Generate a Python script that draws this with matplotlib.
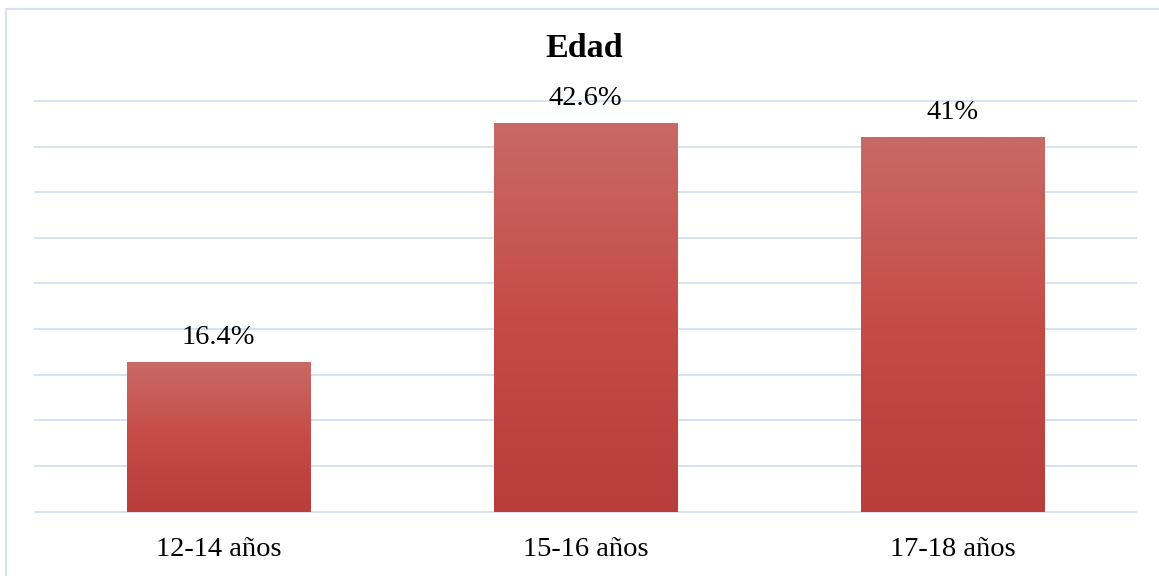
import numpy as np
import matplotlib.pyplot as plt
from matplotlib.colors import LinearSegmentedColormap
from matplotlib.lines import Line2D

plt.rcParams['font.family'] = ['Liberation Serif', 'DejaVu Serif']

titulo = 'Edad'
categorias = ['12-14 años', '15-16 años', '17-18 años']
porcentajes = [16.4, 42.6, 41.0]
etiquetas = ['16.4%', '42.6%', '41%']

# degradado vertical de las barras (abajo -> arriba)
degradado = LinearSegmentedColormap.from_list(
    'rojo', ['#B83D3B', '#C64B47', '#C86A66'])
color_rejilla = '#D6E2F3'

fig = plt.figure(figsize=(11.59, 5.76), dpi=100)
ax = fig.add_axes([35 / 1159, 1 - 511.5 / 576, 1101 / 1159, 410.5 / 576])

x = np.arange(len(categorias))
barras = ax.bar(x, porcentajes, width=0.5, color='#C64B47', zorder=2)

grad = np.linspace(0, 1, 256).reshape(-1, 1)
for b in barras:
    x0, w, h = b.get_x(), b.get_width(), b.get_height()
    im = ax.imshow(grad, cmap=degradado, origin='lower', aspect='auto',
                   extent=(x0, x0 + w, 0, h), zorder=3)
    im.set_clip_path(b)

for xi, v, txt in zip(x, porcentajes, etiquetas):
    ax.annotate(txt, xy=(xi, v), xytext=(0, 13), textcoords='offset points',
                ha='center', va='baseline', fontsize=20.5, color='black')

ax.set_xlim(-0.5, 2.5)
ax.set_ylim(0, 45)
ax.set_yticks(np.arange(0, 46, 5))
ax.yaxis.grid(True, color=color_rejilla, linewidth=1.4, zorder=0)
for g in ax.get_ygridlines():
    g.set_clip_on(False)
ax.set_axisbelow(True)
ax.tick_params(axis='y', left=False, labelleft=False)
ax.set_xticks(x)
ax.set_xticklabels(categorias, fontsize=20.5, color='black')
ax.tick_params(axis='x', length=0, pad=18.5)
for s in ax.spines.values():
    s.set_visible(False)

fig.text(584.5 / 1159, 1 - 48.5 / 576, titulo, ha='center', va='center',
         fontsize=24.5, fontweight='bold', color='black')

# marco exterior: solo se ven el borde izquierdo y el superior
y_top = 1 - 8.5 / 576
x_left = 5.5 / 1159
fig.add_artist(Line2D([x_left, x_left], [0, y_top], transform=fig.transFigure,
                      color=color_rejilla, linewidth=1.5))
fig.add_artist(Line2D([x_left, 1], [y_top, y_top], transform=fig.transFigure,
                      color=color_rejilla, linewidth=1.5))

fig.savefig('out.png', dpi=100)
